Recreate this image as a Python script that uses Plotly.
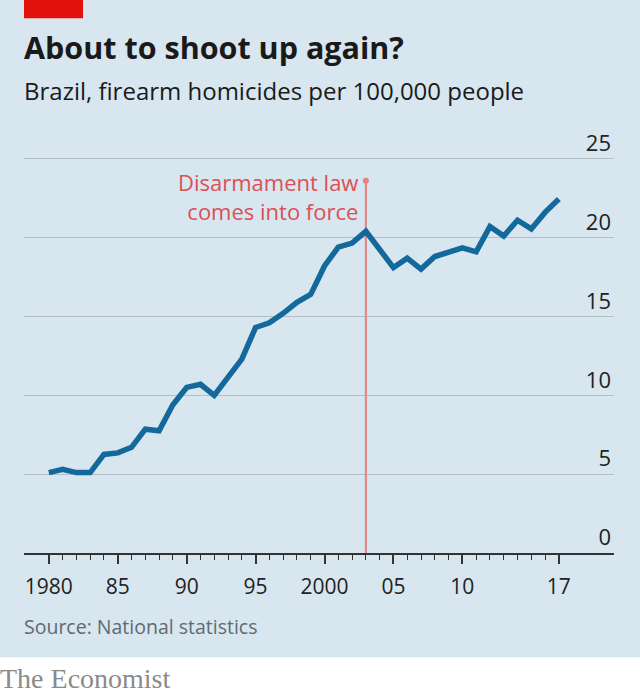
import plotly.graph_objects as go

# Brazil, firearm homicides per 100,000 people
years = list(range(1980, 2018))
rate = [5.1, 5.3, 5.1, 5.1, 6.25, 6.35, 6.7, 7.85, 7.75, 9.4,
        10.5, 10.7, 10.0, 11.2, 12.3, 14.3, 14.6, 15.2, 15.9, 16.4,
        18.2, 19.4, 19.65, 20.4, 19.3, 18.1, 18.7, 18.0, 18.8, 19.1,
        19.35, 19.1, 20.7, 20.1, 21.1, 20.55, 21.6, 22.45]

law_year = 2003
law_top = 23.6

x_tickvals = [1980, 1985, 1990, 1995, 2000, 2005, 2010, 2015, 2017]
x_ticktext = ["1980", "85", "90", "95", "2000", "05", "10", "", "17"]
y_tickvals = [0, 5, 10, 15, 20, 25]

BG = "#d7e6ef"
BLUE = "#14699c"
RED_TXT = "#dd4f55"
RED_LINE = "#e8807e"
FONT = "Open Sans"

fig = go.Figure()

# law line with the dot on top
fig.add_trace(go.Scatter(x=[law_year, law_year], y=[0, law_top], mode="lines",
                         line=dict(color=RED_LINE, width=2), hoverinfo="skip"))
fig.add_trace(go.Scatter(x=[law_year], y=[law_top], mode="markers",
                         marker=dict(color=RED_LINE, size=6), hoverinfo="skip"))

fig.add_trace(go.Scatter(x=years, y=rate, mode="lines",
                         line=dict(color=BLUE, width=5.5)))

fig.add_annotation(x=law_year, y=22.6, xref="x", yref="y",
                   text="Disarmament law<br>comes into force",
                   showarrow=False, xanchor="right", yanchor="middle",
                   align="right", xshift=-6,
                   font=dict(family=FONT, size=22, color=RED_TXT))

# titles etc, in paper coords (plot area is 24..614 px wide, 143..553.5 px tall)
def px(x):
    return (x - 24) / 590.0


def py(y):
    return (553.5 - y) / 410.5


fig.add_annotation(x=px(22), y=py(47), xref="paper", yref="paper",
                   text="<b>About to shoot up again?</b>", showarrow=False,
                   xanchor="left", yanchor="middle",
                   font=dict(family=FONT, size=30.5, color="#1a1a1a"))
fig.add_annotation(x=px(22), y=py(90), xref="paper", yref="paper",
                   text="Brazil, firearm homicides per 100,000 people", showarrow=False,
                   xanchor="left", yanchor="middle",
                   font=dict(family=FONT, size=24, color="#1a1a1a"))
fig.add_annotation(x=px(22), y=py(627), xref="paper", yref="paper",
                   text="Source: National statistics", showarrow=False,
                   xanchor="left", yanchor="middle",
                   font=dict(family=FONT, size=19.5, color="#5f6a72"))
fig.add_annotation(x=px(-2), y=py(679), xref="paper", yref="paper",
                   text="The Economist", showarrow=False,
                   xanchor="left", yanchor="middle",
                   font=dict(family="Liberation Serif", size=28, color="#8a8a8a"))

# white strip at the bottom and the red tag at the top
fig.add_shape(type="rect", xref="paper", yref="paper", layer="below",
              x0=px(-10), x1=px(650), y0=py(658), y1=py(710),
              fillcolor="white", line_width=0)
fig.add_shape(type="rect", xref="paper", yref="paper",
              x0=px(24), x1=px(83), y0=py(18), y1=py(-5),
              fillcolor="#e3120b", line_width=0)

fig.update_layout(
    width=640, height=697,
    margin=dict(l=24, r=26, t=143, b=143.5),
    paper_bgcolor=BG, plot_bgcolor=BG,
    showlegend=False,
    xaxis=dict(range=[1978.2, 2021.0], tickmode="array",
               tickvals=x_tickvals, ticktext=x_ticktext,
               showgrid=False, zeroline=False,
               showline=True, linecolor="#333333", linewidth=1.5,
               ticks="outside", ticklen=9, tickwidth=1.5, tickcolor="#333333",
               ticklabelstandoff=5,
               minor=dict(tickmode="array", tickvals=years, ticks="outside",
                          ticklen=5, tickwidth=1.2, tickcolor="#333333"),
               tickfont=dict(family=FONT, size=21, color="#222222")),
    yaxis=dict(range=[0, 26], tickmode="array", tickvals=y_tickvals,
               side="right", ticklabelposition="inside top",
               ticklabeloverflow="allow",
               showgrid=True, gridcolor="#b3bec6", gridwidth=1.3,
               zeroline=False, showline=False, ticks="",
               tickfont=dict(family=FONT, size=22, color="#222222")),
)

# drop the page's default body margin so the chart sits at the corner
fig.write_html("out.html", config={"displayModeBar": False},
               post_script="document.body.style.margin='0px';")
